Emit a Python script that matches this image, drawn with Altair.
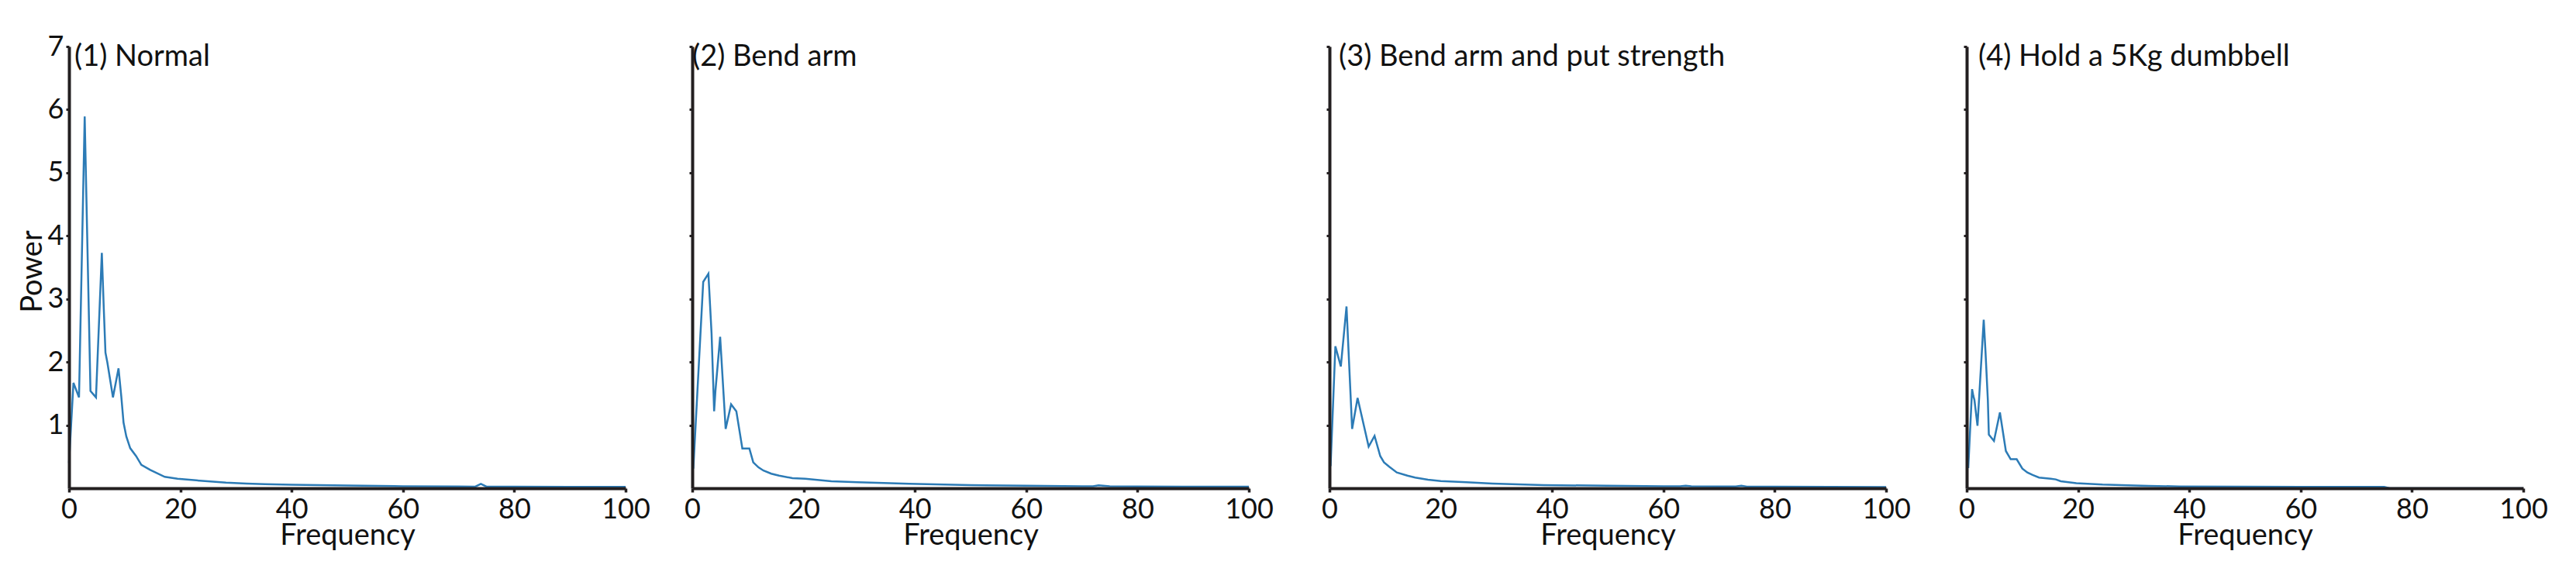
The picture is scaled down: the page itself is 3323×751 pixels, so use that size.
import altair as alt
import pandas as pd

# ---------------- data ----------------
titles = ["(1) Normal", "(2) Bend arm", "(3) Bend arm and put strength", "(4) Hold a 5Kg dumbbell"]

freq_normal = [0, 0.8, 1.8, 2.82, 3.86, 4.85, 5.9, 6.25, 6.55, 6.9, 7.9, 8.9, 9.4, 9.8, 10.3, 11.0, 12.05,
               13.0, 14.6, 17.2, 19.5, 23.5, 28.2, 31.9, 35.2, 40, 50, 60, 70, 73, 74, 75, 80, 90, 100]
power_normal = [0.4, 1.67, 1.44, 5.89, 1.54, 1.44, 3.73, 2.85, 2.15, 1.99, 1.44, 1.90, 1.45, 1.04, 0.82, 0.635,
                0.51, 0.37, 0.29, 0.18, 0.15, 0.12, 0.09, 0.074, 0.066, 0.055, 0.042, 0.032, 0.027, 0.026,
                0.07, 0.026, 0.024, 0.022, 0.02]

freq_bend = [0.19, 1.97, 2.9, 3.47, 3.7, 3.93, 4.17, 5.01, 6.0, 6.98, 7.92, 9.0, 10.26, 10.96, 11.9, 12.8,
             14.2, 15.6, 18.0, 20.3, 25, 29.7, 34.4, 39, 50, 60, 70, 72, 73, 75, 80, 90, 100]
power_bend = [0.31, 3.27, 3.40, 2.45, 1.84, 1.22, 1.55, 2.40, 0.94, 1.33, 1.22, 0.63, 0.63, 0.41, 0.33, 0.28,
              0.23, 0.20, 0.16, 0.15, 0.11, 0.094, 0.082, 0.07, 0.05, 0.04, 0.032, 0.03, 0.045, 0.03, 0.028,
              0.025, 0.024]

freq_strength = [0.2, 1.06, 2.04, 3.06, 4.07, 5.05, 7.04, 8.1, 9.12, 9.8, 10.74, 12.1, 14.0, 15.4, 17.7, 20.0,
                 24.6, 29.3, 33.9, 38.5, 50, 60, 63, 64, 65, 70, 73, 74, 75, 80, 90, 100]
power_strength = [0.35, 2.25, 1.93, 2.88, 0.94, 1.43, 0.66, 0.83, 0.51, 0.41, 0.34, 0.25, 0.20, 0.17, 0.135,
                  0.115, 0.094, 0.074, 0.061, 0.049, 0.04, 0.032, 0.03, 0.04, 0.03, 0.028, 0.027, 0.04, 0.026,
                  0.024, 0.02, 0.018]

freq_dumbbell = [0.28, 0.97, 1.2, 1.39, 1.94, 3.06, 3.38, 3.8, 3.98, 4.9, 5.97, 7.04, 7.9, 8.98, 10.0, 10.9,
                 11.85, 13.0, 15.1, 16.0, 16.9, 19.7, 24.4, 29.0, 32.7, 38.2, 50, 60, 70, 75, 76, 100]
power_dumbbell = [0.32, 1.57, 1.46, 1.40, 0.99, 2.67, 2.16, 1.40, 0.85, 0.75, 1.20, 0.59, 0.46, 0.46, 0.31,
                  0.25, 0.21, 0.17, 0.15, 0.14, 0.11, 0.08, 0.057, 0.045, 0.037, 0.029, 0.025, 0.022, 0.02,
                  0.02, 0.0, 0.0]

x_ticks = [0, 20, 40, 60, 80, 100]
y_ticks = [1, 2, 3, 4, 5, 6, 7]

series = [(freq_normal, power_normal), (freq_bend, power_bend),
          (freq_strength, power_strength), (freq_dumbbell, power_dumbbell)]

# ---------------- style / layout ----------------
FONT = "Lato"
W, H = 718, 570
LINE_COLOR = "#2c7bb6"
AXIS_COLOR = "#231f20"
TEXT_COLOR = "#111111"
TICK_FS = 36
TITLE_FS = 38
title_dx = [7, 0, 12, 15]
left_extent = [0, 0, 29, 29]


def make_panel(idx):
    freq, power = series[idx]
    df = pd.DataFrame({"Frequency": freq, "Power": power})
    first = idx == 0

    x_axis = alt.Axis(values=x_ticks, title="Frequency", format="d", grid=False, labelFlush=False,
                      domainColor=AXIS_COLOR, domainWidth=4, tickColor=AXIS_COLOR,
                      tickWidth=3.5, tickSize=5, labelFont=FONT, labelFontSize=TICK_FS,
                      labelColor=TEXT_COLOR, labelPadding=5, titleFont=FONT,
                      titleFontSize=TITLE_FS, titleFontWeight="normal", titleColor=TEXT_COLOR,
                      titlePadding=-3, zindex=1)
    if first:
        y_axis = alt.Axis(values=y_ticks, title="Power", format="d", grid=False, labelFlush=False,
                          domainColor=AXIS_COLOR, domainWidth=4, tickColor=AXIS_COLOR,
                          tickWidth=3, tickSize=4, labelFont=FONT, labelFontSize=TICK_FS,
                          labelColor=TEXT_COLOR, labelPadding=3, titleFont=FONT,
                          titleFontSize=TITLE_FS, titleFontWeight="normal", titleColor=TEXT_COLOR,
                          titleX=-47, titleY=H / 2 + 5, titleBaseline="middle", titleAngle=270,
                          zindex=1)
    else:
        y_axis = alt.Axis(values=y_ticks, title=None, labels=False, grid=False,
                          domainColor=AXIS_COLOR, domainWidth=4, tickColor=AXIS_COLOR,
                          tickWidth=3, tickSize=4, minExtent=left_extent[idx], zindex=1)

    line = alt.Chart(df).mark_line(color=LINE_COLOR, strokeWidth=2.5).encode(
        x=alt.X("Frequency:Q", scale=alt.Scale(domain=[0, 100], nice=False), axis=x_axis),
        y=alt.Y("Power:Q", scale=alt.Scale(domain=[0, 7], nice=False), axis=y_axis),
        order="Frequency:Q",
    )
    label = alt.Chart(pd.DataFrame({"title": [titles[idx]]})).mark_text(
        align="left", baseline="alphabetic", font=FONT, fontSize=TITLE_FS, color=TEXT_COLOR
    ).encode(x=alt.value(title_dx[idx]), y=alt.value(25), text="title:N")

    return alt.layer(line, label).properties(width=W, height=H)


chart = alt.hconcat(*[make_panel(i) for i in range(4)], spacing=43).properties(
    padding={"left": 15, "top": 34, "right": 10, "bottom": 10},
    background="white",
).configure_view(stroke=None, strokeWidth=0)

chart.save("out.html", embed_options={"renderer": "svg", "actions": False})
